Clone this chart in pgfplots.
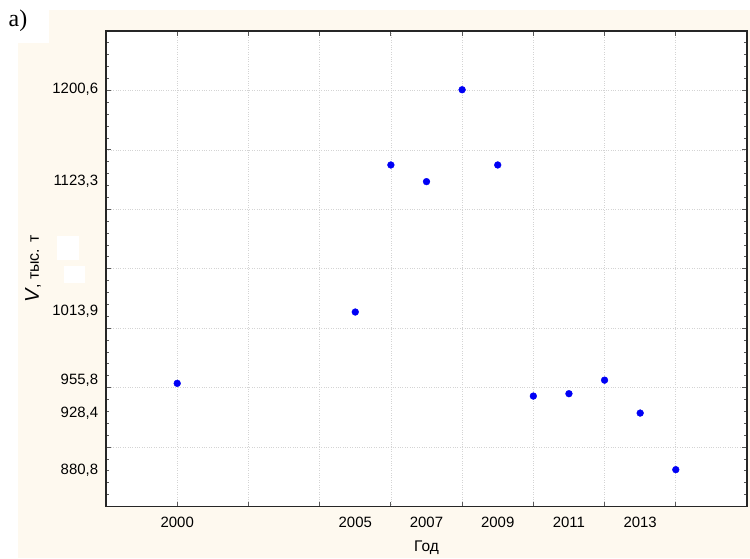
\documentclass[border=0pt]{standalone}
\usepackage{fontspec}
\setmainfont{Liberation Sans}
\newfontfamily\timesfont{Liberation Serif}
\usepackage{pgfplots}
\pgfplotsset{compat=1.18}
\definecolor{cream}{RGB}{254,249,239}
\definecolor{gridc}{RGB}{212,212,212}
\definecolor{ptblue}{RGB}{0,0,245}
\begin{document}
\begin{tikzpicture}
\fill[white] (0bp,0bp) rectangle (750bp,-559bp);
\fill[cream] (18bp,-10bp) rectangle (750bp,-558bp);
\fill[white] (0bp,0bp) rectangle (49bp,-43bp);
\node[font=\timesfont\fontsize{24}{27}\selectfont, inner sep=0pt] at (18bp,-21bp) {а)};
\fill[white] (57bp,-236bp) rectangle (79bp,-260bp);
\fill[white] (64bp,-266bp) rectangle (85bp,-283bp);
\begin{axis}[
  at={(106bp,-506.5bp)}, anchor=south west,
  scale only axis, width=641bp, height=475.5bp,
  axis background/.style={fill=white},
  xmin=1998, xmax=2016, ymin=850, ymax=1250,
  xtick={1998,2000,...,2016}, xticklabels={},
  minor x tick num=1,
  ytick={850,900,...,1250}, yticklabels={},
  minor y tick num=4,
  grid=major, major grid style={gridc, dotted, line width=0.6bp},
  tick align=inside,
  major tick length=5bp, minor tick length=3bp,
  every tick/.style={black!65, line width=0.8bp},
  axis line style={black!85, line width=1.2bp},
  extra x ticks={2000,2005,2007,2009,2011,2013},
  extra x tick labels={2000,2005,2007,2009,2011,2013},
  extra x tick style={grid=none, major tick length=0pt},
  extra y ticks={880.8,928.4,955.8,1013.9,1123.3,1200.6},
  extra y tick labels={{880,8},{928,4},{955,8},{1013,9},{1123,3},{1200,6}},
  extra y tick style={grid=none, major tick length=0pt},
  xticklabel style={font=\fontsize{15}{17}\selectfont, anchor=north, inner sep=0pt, yshift=-10.5bp},
  yticklabel style={font=\fontsize{15}{17}\selectfont, anchor=east, inner sep=0pt, xshift=-7.7bp},
  xlabel={Год},
  xlabel style={at={(axis description cs:0.5,-0.0873)}, anchor=center, font=\fontsize{15.5}{17}\selectfont, inner sep=0pt},
  ylabel={{\fontsize{20}{22}\selectfont\itshape V}{\fontsize{16}{18}\selectfont, тыс. т}},
  ylabel style={at={(axis description cs:-0.1139,0.5)}, anchor=center, inner sep=0pt},
  clip=false,
]
\addplot[only marks, mark=*, mark size=3.4bp, mark options={fill=ptblue, draw=ptblue}] coordinates {
  (2000,953.6) (2005,1013.6) (2006,1137.3) (2007,1123.3) (2008,1200.6)
  (2009,1137.3) (2010,942.9) (2011,944.9) (2012,956.3) (2013,928.6) (2014,881.0)
};
\end{axis}
\end{tikzpicture}
\end{document}
